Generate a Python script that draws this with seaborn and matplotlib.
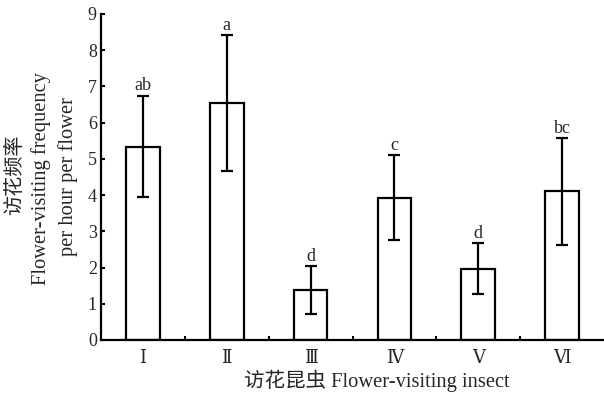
import matplotlib
matplotlib.use("Agg")
import matplotlib.pyplot as plt
import seaborn as sns
import pandas as pd
import numpy as np
from matplotlib.ticker import FixedLocator

categories = ["Ⅰ", "Ⅱ", "Ⅲ", "Ⅳ", "Ⅴ", "Ⅵ"]
means = [5.34, 6.54, 1.37, 3.93, 1.97, 4.10]
errors = [1.40, 1.87, 0.66, 1.18, 0.70, 1.47]
letters = ["ab", "a", "d", "c", "d", "bc"]

sns.set_theme(style="ticks")
fam = ["Liberation Serif", "DejaVu Serif", "Noto Sans CJK SC"]
plt.rcParams["font.family"] = fam
plt.rcParams["axes.unicode_minus"] = False

fig = plt.figure(figsize=(6.04, 3.94), dpi=100)
ax = fig.add_axes([101/604, 1-340/394, 503/604, 326/394])

df = pd.DataFrame({"insect": categories, "freq": means})
sns.barplot(data=df, x="insect", y="freq", order=categories, color="white",
            edgecolor="black", linewidth=1.6, width=0.4, errorbar=None, ax=ax,
            saturation=1)
for p in ax.patches:
    p.set_facecolor("white")

xs = np.arange(len(categories))
ax.errorbar(xs, means, yerr=errors, fmt="none", ecolor="black", elinewidth=1.6,
            capsize=4, capthick=1.6)
for x, m, e, t in zip(xs, means, errors, letters):
    ax.annotate(t, (x, m + e), xytext=(0, 1), textcoords="offset points",
                ha="center", va="bottom", fontsize=13, family=fam)

ax.set_xlim(-0.5, 5.5)
ax.set_ylim(0, 9)
ax.set_yticks(range(0, 10))
ax.set_yticklabels([str(i) for i in range(10)], fontsize=13)
ax.set_xticks(xs)
ax.set_xticklabels(categories, fontsize=13)
ax.tick_params(axis="x", which="major", length=0, pad=7)
ax.xaxis.set_minor_locator(FixedLocator([0.5, 1.5, 2.5, 3.5, 4.5]))
ax.tick_params(axis="x", which="minor", direction="in", length=3, width=1.5, color="black")
ax.tick_params(axis="y", direction="in", length=3, width=1.5, pad=3, color="black")
for s in ["top", "right"]:
    ax.spines[s].set_visible(False)
for s in ["left", "bottom"]:
    ax.spines[s].set_linewidth(1.6)
    ax.spines[s].set_color("black")
ax.set_xlabel("")
ax.set_ylabel("")

fig.text(15/604, 1-175/394, "访花频率", rotation=90, ha="center", va="center",
         fontsize=14.5, family=["Noto Sans CJK SC"])
fig.text(41/604, 1-179/394, "Flower-visiting frequency", rotation=90, ha="center",
         va="center", fontsize=14.8, family=fam)
fig.text(68/604, 1-177/394, "per hour per flower", rotation=90, ha="center",
         va="center", fontsize=14.8, family=fam)
fig.text(377/604, 1-381/394, "访花昆虫 Flower-visiting insect", ha="center",
         va="center", fontsize=14.8, family=["Liberation Serif", "Noto Sans CJK SC"])

fig.savefig("out.png", dpi=100)
